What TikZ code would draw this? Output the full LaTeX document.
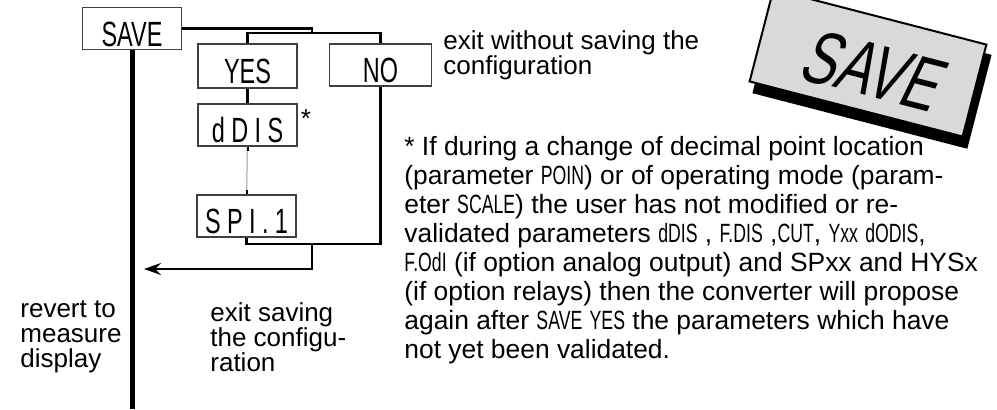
\documentclass[tikz,border=0pt]{standalone}
\usepackage{fontspec}
\setmainfont{Liberation Sans}
\newfontfamily\cnd[FakeStretch=0.67]{Liberation Sans}
\newfontfamily\cndit[FakeStretch=0.7,FakeSlant=0.2]{Liberation Sans}
\usetikzlibrary{arrows.meta, positioning}
\newcommand\lsp{\kern3.2pt}
\tikzset{
  menubox/.style={draw=black!75, line width=0.6pt, minimum width=49.5pt, minimum height=21pt, inner sep=0pt, text height=17.5pt, text depth=0pt, font=\cnd\fontsize{17.5}{17.5}\selectfont},
  link/.style={line width=1.3pt},
  thinlink/.style={line width=0.5pt, draw=black!40},
  mainline/.style={line width=2.5pt},
  backlink/.style={link, -{Stealth[length=8.5pt, width=6pt, inset=3pt]}},
  note/.style={align=left, inner sep=0pt, font=\fontsize{13}{12.5}\selectfont},
  stampbox/.style={draw, line width=1pt, fill=black!15, minimum width=110pt, minimum height=47.5pt, inner sep=0pt},
}

\begin{document}
\begin{tikzpicture}[x=0.5pt, y=-0.5pt]
  \useasboundingbox (0,0) rectangle (997,409);
  % menu boxes
  \node[menubox] (save) at (132,28.5) {SAVE};
  \node[menubox, minimum height=22pt] (yes) at (247.5,66) {YES};
  \node[menubox, minimum width=51pt] (no) at (380.5,65) {NO};
  \node[menubox] (ddis) at (247.5,125) {d\lsp D\lsp I\lsp S};
  \node[menubox] (spi) at (246.5,216) {S\lsp P\lsp I\lsp .\lsp 1};
  \node[font=\fontsize{13}{13}\selectfont] (star) at (306,119) {*};
  \coordinate (fork) at (312,33);
  \coordinate (join) at (312,244);
  \coordinate (ret) at (144,269);
  \coordinate (bot) at (132,409);
  % connectors
  \draw[mainline] (save.south) -- (bot);
  \draw[link] (save.east) -| (fork);
  \draw[link] (yes.north) |- (fork) -| (no.north);
  \draw[link] (yes) -- (ddis);
  \draw[thinlink] (ddis) -- (spi);
  \draw[line width=1pt] (ddis.south) -- ++(0,4) (spi.north) -- ++(0,-4);
  \draw[link] (spi.south) |- (no.south |- join) -- (no.south);
  \draw[backlink] (join) |- (ret);
  % texts
  \node[note, anchor=north west] (exitno) at (443,30) {exit without saving the\\configuration};
  \node[note, anchor=north west] (revert) at (20,300) {revert to\\measure\\display};
  \node[note, anchor=north west] (exitsave) at (210,302) {exit saving\\the configu-\\ration};
  \node[note, anchor=north west, font=\fontsize{13.2}{14.5}\selectfont] (foot) at (404,136) {* If during a change of decimal point location\\
    (parameter {\cnd POIN}) or of operating mode (param-\\
    eter {\cnd SCALE}) the user has not modified or re-\\
    validated parameters {\cnd dDIS} , {\cnd F.DIS} ,{\cnd CUT}, {\cnd Yxx} {\cnd dODIS},\\
    {\cnd F.OdI} (if option analog output) and SPxx and HYSx\\
    (if option relays) then the converter will propose\\
    again after {\cnd SAVE} {\cnd YES} the parameters which have\\
    not yet been validated.};
  % stamp
  \node[stampbox, fill=black, draw=black, rotate=-14.5] (shadow) at (872,74) {};
  \node[stampbox, rotate=-14.5] (stamp) at (868,63) {};
  \node[font=\cndit\fontsize{38}{38}\selectfont, rotate=-14.5] (stamptext) at (870,70) {SAVE};
\end{tikzpicture}
\end{document}
